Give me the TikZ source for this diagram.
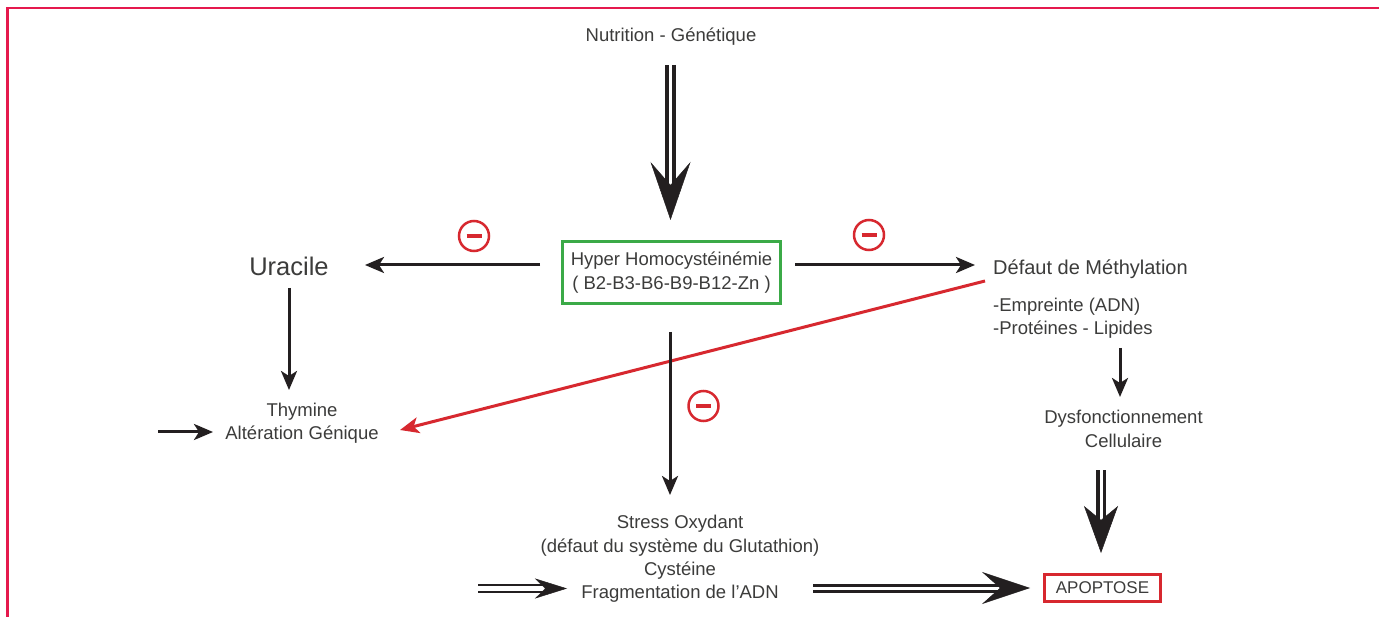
\documentclass[tikz,border=0pt]{standalone}
\usepackage{fontspec}
\setmainfont{Liberation Sans}
\usetikzlibrary{arrows.meta}
\definecolor{ink}{HTML}{231F20}
\definecolor{txtc}{HTML}{3C3C3B}
\definecolor{redc}{HTML}{D7282F}
\definecolor{greenc}{HTML}{3BAA47}
\definecolor{borderc}{HTML}{E5194D}
\tikzset{
  txt/.style={text=txtc, font=\fontsize{18.5}{23.3}\selectfont, inner sep=0pt, align=center},
  arr/.style={draw=ink, line width=3pt, -{Stealth[length=19pt, width=16pt, inset=5pt]}},
  redarr/.style={draw=redc, line width=3pt, -{Stealth[length=19pt, width=16pt, inset=5pt]}},
  dblline/.style={draw=ink, double=white},
  bighead/.style={draw=ink, fill=ink, line width=0.5pt},
  minus/.pic={
    \draw[redc, line width=2.5pt] (0,0) circle (15pt);
    \draw[redc, line width=4pt] (-7.5,0) -- (7.5,0);
  }
}
\begin{document}
\begin{tikzpicture}[x=1pt, y=-1pt]
\useasboundingbox (0,0) rectangle (1379,617);
\fill[white] (0,0) rectangle (1379,617);
% border
\draw[borderc, line width=2.5pt] (1379,8) -- (7.5,8) -- (7.5,617);

% nodes
\node[txt] (nut) at (671,37) {Nutrition - Génétique};
\node[txt, draw=greenc, line width=3pt, minimum width=218pt, minimum height=62pt] (hh) at (671.5,272.5)
  {Hyper Homocystéinémie\\( B2-B3-B6-B9-B12-Zn )};
\node[txt, font=\fontsize{25.5}{30}\selectfont] (ura) at (289,266) {Uracile};
\node[txt, anchor=west, font=\fontsize{20}{24}\selectfont] (meth) at (993,269.5) {Défaut de Méthylation};
\node[txt, anchor=west, align=left] (empr) at (993,318) {-Empreinte (ADN)\\-Protéines - Lipides};
\node[txt] (thy) at (302,423) {Thymine\\Altération Génique};
\node[txt] (dys) at (1123.5,429) {Dysfonctionnement\\Cellulaire};
\node[txt] (stress) at (680,559) {Stress Oxydant\\(défaut du système du Glutathion)\\Cystéine\\Fragmentation de l’ADN};
\node[txt, font=\fontsize{17}{20}\selectfont, draw=redc, line width=3pt, minimum width=116pt, minimum height=27pt] (apo) at (1102.5,588) {APOPTOSE};

% coordinates for arrow ends
\coordinate (nutA) at (670.5,65);
\coordinate (nutB) at (670.5,220);
\coordinate (uraTip) at (365,265);
\coordinate (methTip) at (975,265);
\coordinate (uraTop) at (289,288);
\coordinate (uraBot) at (289,390);
\coordinate (thyL) at (158,432);
\coordinate (thyTip) at (213,432);
\coordinate (redS) at (985,281);
\coordinate (redT) at (400,430);
\coordinate (cTop) at (670,332);
\coordinate (cBot) at (670,495);
\coordinate (eTop) at (1120,348);
\coordinate (eBot) at (1120,397);
\coordinate (sL) at (478,588.5);
\coordinate (sTip) at (567,588.5);
\coordinate (aL) at (813,588);
\coordinate (aTip) at (1030,588);
\coordinate (dTop) at (1101,470);
\coordinate (dTip) at (1101,553);

% Nutrition -> Hyper (double arrow)
\draw[dblline, line width=4pt, double distance=3.5pt] (nutA) -- (670.5,186);
\draw[bighead, -{Stealth[length=58pt, width=40pt, inset=23pt]}] (670.5,216) -- (nutB);

% Hyper -> Uracile, Hyper -> Methylation
\draw[arr] ([xshift=-21pt]hh.west |- uraTip) -- (uraTip);
\draw[arr] ([xshift=13pt]hh.east |- methTip) -- (methTip);
\pic at (474,236) {minus};
\pic at (869,235) {minus};

% Uracile -> Thymine
\draw[arr] (uraTop) -- (uraBot);
\draw[arr] (thyL) -- (thyTip);

% red: methylation -> alteration genique
\draw[redarr] (redS) -- (redT);

% Hyper -> Stress
\draw[arr] (cTop) -- (cBot);
\pic at (703.5,406) {minus};

% Empreinte -> Dysfonctionnement
\draw[arr] (eTop) -- (eBot);

% small double arrow into Stress
\draw[dblline, line width=2pt, double distance=4.5pt] (sL) -- (546,588.5);
\draw[bighead, -{Stealth[length=32pt, width=20pt, inset=10pt]}] (565,588.5) -- (sTip);

% Stress -> Apoptose
\draw[dblline, line width=3pt, double distance=3pt] (aL) -- (1000,588);
\draw[bighead, -{Stealth[length=48pt, width=32pt, inset=18pt]}] (1028,588) -- (aTip);

% Dysfonctionnement -> Apoptose
\draw[dblline, line width=3.5pt, double distance=3pt] (dTop) -- (1101,521);
\draw[bighead, -{Stealth[length=47pt, width=34pt, inset=14pt]}] (1101,551) -- (dTip);
\end{tikzpicture}
\end{document}
